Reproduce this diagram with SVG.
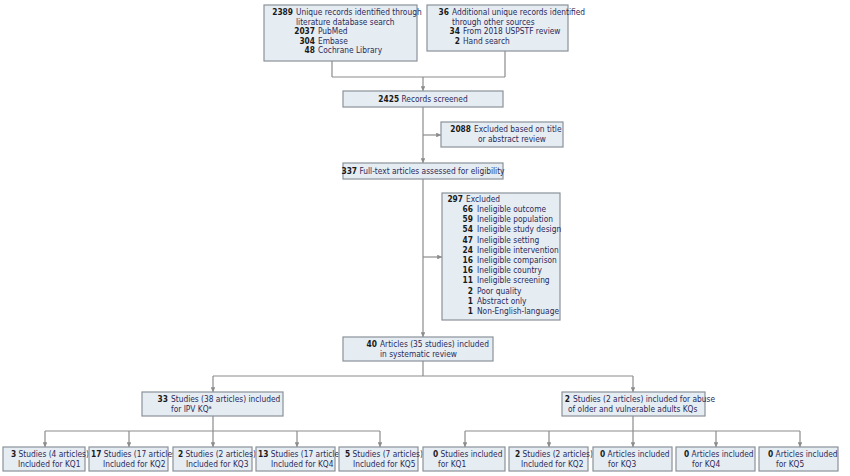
<svg xmlns="http://www.w3.org/2000/svg" width="850" height="476" viewBox="0 0 850 476">
<defs>
<marker id="ar" viewBox="0 0 6 6" refX="6" refY="3" markerWidth="4" markerHeight="4" orient="auto"><path d="M0,0L6,3L0,6z" fill="#8c8c8c"/></marker>
<style>
rect{fill:#e6edf2;stroke:#8a9299;stroke-width:1.2}
text{font-family:"Liberation Sans Narrow","DejaVu Sans Condensed","Liberation Sans",sans-serif;font-size:8.3px;fill:#2a2a5a}
.b{font-weight:bold;fill:#1a1a1a}
.e{text-anchor:end}
.c{text-anchor:middle}
#connectors path{fill:none;stroke:#8c8c8c;stroke-width:1.2}
.a{marker-end:url(#ar)}
</style>
</defs>
<rect width="850" height="476" style="fill:#fff;stroke:none"/>
<g id="connectors">
<path d="M332,61V77M505,51V77M332,77H505"/>
<path class="a" d="M423,77V91"/>
<path class="a" d="M423,107V163"/>
<path class="a" d="M423,135H441"/>
<path class="a" d="M423,179V337"/>
<path class="a" d="M423,257H442"/>
<path d="M423,361V376M213,376H633"/>
<path class="a" d="M213,376V392"/>
<path class="a" d="M633,376V392"/>
<path d="M213,416V431M45,431H380M633,416V431M465,431H800"/>
<path class="a" d="M45,431V447"/><path class="a" d="M129,431V447"/><path class="a" d="M213,431V447"/><path class="a" d="M297,431V447"/><path class="a" d="M380,431V447"/>
<path class="a" d="M465,431V447"/><path class="a" d="M549,431V447"/><path class="a" d="M633,431V447"/><path class="a" d="M716,431V447"/><path class="a" d="M800,431V447"/>
</g>
<g id="n1"><rect x="264" y="5" width="153" height="56"/>
<text x="293" y="15" class="b e">2389</text><text x="296" y="15">Unique records identified through</text>
<text x="296" y="24.5">literature database search</text>
<text x="315" y="34" class="b e">2037</text><text x="318" y="34">PubMed</text>
<text x="315" y="43.5" class="b e">304</text><text x="318" y="43.5">Embase</text>
<text x="315" y="53" class="b e">48</text><text x="318" y="53">Cochrane Library</text></g>
<g id="n2"><rect x="427" y="5" width="141" height="46"/>
<text x="449" y="15" class="b e">36</text><text x="452" y="15">Additional unique records identified</text>
<text x="452" y="24.5">through other sources</text>
<text x="460" y="34" class="b e">34</text><text x="463" y="34">From 2018 USPSTF review</text>
<text x="460" y="43.5" class="b e">2</text><text x="463" y="43.5">Hand search</text></g>
<g id="n3"><rect x="343" y="91" width="160" height="16"/>
<text x="423" y="102" class="c"><tspan class="b">2425</tspan> Records screened</text></g>
<g id="n4"><rect x="441" y="122" width="122" height="25"/>
<text x="471" y="132" class="b e">2088</text><text x="474" y="132">Excluded based on title</text>
<text x="478" y="142">or abstract review</text></g>
<g id="n5"><rect x="343" y="163" width="160" height="16"/>
<text x="423" y="174" class="c"><tspan class="b">337</tspan> Full-text articles assessed for eligibility</text></g>
<g id="n6"><rect x="442" y="193" width="118" height="127"/>
<text x="463" y="202" class="b e">297</text><text x="466" y="202">Excluded</text>
<text x="473" y="212" class="b e">66</text><text x="477" y="212">Ineligible outcome</text>
<text x="473" y="222.2" class="b e">59</text><text x="477" y="222.2">Ineligible population</text>
<text x="473" y="232.4" class="b e">54</text><text x="477" y="232.4">Ineligible study design</text>
<text x="473" y="242.6" class="b e">47</text><text x="477" y="242.6">Ineligible setting</text>
<text x="473" y="252.8" class="b e">24</text><text x="477" y="252.8">Ineligible intervention</text>
<text x="473" y="263" class="b e">16</text><text x="477" y="263">Ineligible comparison</text>
<text x="473" y="273.2" class="b e">16</text><text x="477" y="273.2">Ineligible country</text>
<text x="473" y="283.4" class="b e">11</text><text x="477" y="283.4">Ineligible screening</text>
<text x="473" y="293.6" class="b e">2</text><text x="477" y="293.6">Poor quality</text>
<text x="473" y="303.8" class="b e">1</text><text x="477" y="303.8">Abstract only</text>
<text x="473" y="314" class="b e">1</text><text x="477" y="314">Non-English-language</text></g>
<g id="n7"><rect x="343" y="337" width="150" height="24"/>
<text x="377" y="347" class="b e">40</text><text x="380" y="347">Articles (35 studies) included</text>
<text x="380" y="357">in systematic review</text></g>
<g id="n8"><rect x="142" y="392" width="141" height="24"/>
<text x="168" y="402" class="b e">33</text><text x="171" y="402">Studies (38 articles) included</text>
<text x="171" y="412">for IPV KQ<tspan font-size="5.5" dy="-3">a</tspan></text></g>
<g id="n9"><rect x="562" y="392" width="143" height="24"/>
<text x="570" y="402" class="b e">2</text><text x="573" y="402">Studies (2 articles) included for abuse</text>
<text x="568" y="412">of older and vulnerable adults KQs</text></g>
<g id="k1"><rect x="3" y="447" width="82" height="24"/><text x="11" y="457"><tspan class="b">3</tspan> Studies (4 articles)</text><text x="18" y="467">Included for KQ1</text></g>
<g id="k2"><rect x="89" y="447" width="79" height="24"/><text x="91" y="457"><tspan class="b">17</tspan> Studies (17 articles)</text><text x="103" y="467">Included for KQ2</text></g>
<g id="k3"><rect x="173" y="447" width="79" height="24"/><text x="178" y="457"><tspan class="b">2</tspan> Studies (2 articles)</text><text x="186" y="467">Included for KQ3</text></g>
<g id="k4"><rect x="256" y="447" width="79" height="24"/><text x="258" y="457"><tspan class="b">13</tspan> Studies (17 articles)</text><text x="271" y="467">Included for KQ4</text></g>
<g id="k5"><rect x="339" y="447" width="79" height="24"/><text x="345" y="457"><tspan class="b">5</tspan> Studies (7 articles)</text><text x="353" y="467">Included for KQ5</text></g>
<g id="k6"><rect x="423" y="447" width="82" height="24"/><text x="433" y="457"><tspan class="b">0</tspan> Studies included</text><text x="438" y="467">for KQ1</text></g>
<g id="k7"><rect x="509" y="447" width="79" height="24"/><text x="515" y="457"><tspan class="b">2</tspan> Studies (2 articles)</text><text x="521" y="467">Included for KQ2</text></g>
<g id="k8"><rect x="593" y="447" width="79" height="24"/><text x="600" y="457"><tspan class="b">0</tspan> Articles included</text><text x="608" y="467">for KQ3</text></g>
<g id="k9"><rect x="676" y="447" width="79" height="24"/><text x="684" y="457"><tspan class="b">0</tspan> Articles included</text><text x="692" y="467">for KQ4</text></g>
<g id="k10"><rect x="759" y="447" width="79" height="24"/><text x="768" y="457"><tspan class="b">0</tspan> Articles included</text><text x="776" y="467">for KQ5</text></g>
</svg>
